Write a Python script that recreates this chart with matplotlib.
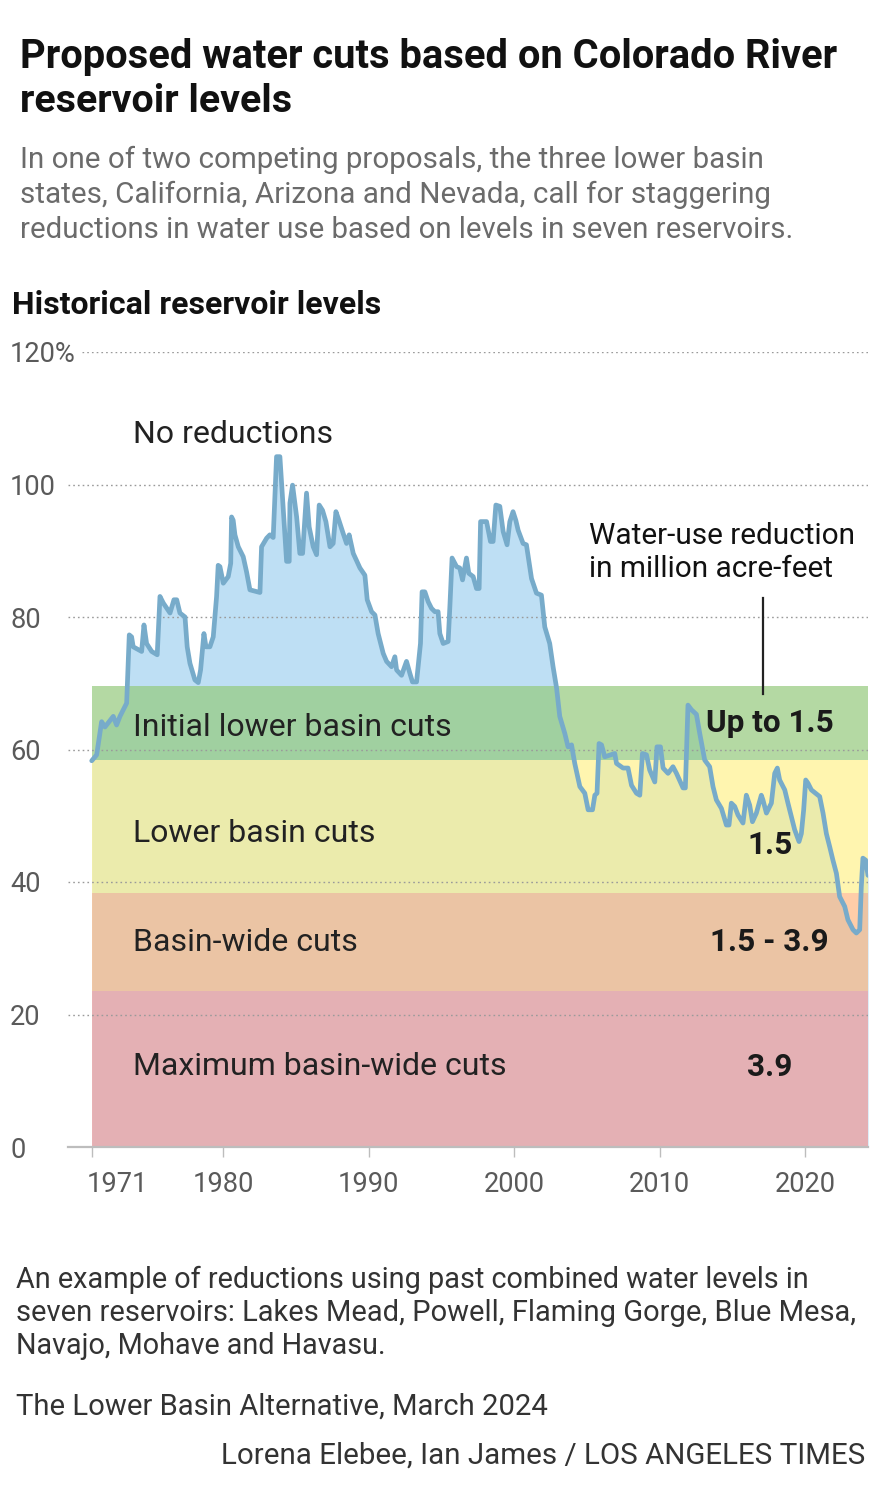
import matplotlib
matplotlib.use('Agg')
import matplotlib.pyplot as plt
from matplotlib import font_manager
from matplotlib.transforms import ScaledTranslation

# ---------------- data ----------------
years = [1970.98, 1971.32, 1971.66, 1971.89, 1972.46, 1972.69, 1972.92, 1973.26, 1973.38, 1973.56,
         1973.72, 1973.83, 1974.41, 1974.57, 1974.75, 1975.10, 1975.48, 1975.67, 1975.90, 1976.36,
         1976.63, 1976.82, 1977.04, 1977.39, 1977.54, 1977.73, 1978.07, 1978.30, 1978.46, 1978.69,
         1978.83, 1979.10, 1979.33, 1979.56, 1979.67, 1979.79, 1980.02, 1980.36, 1980.53, 1980.59,
         1980.70, 1980.82, 1981.05, 1981.39, 1981.62, 1981.85, 1982.54, 1982.65, 1983.00, 1983.22,
         1983.45, 1983.68, 1983.91, 1984.37, 1984.55, 1984.60, 1984.78, 1985.06, 1985.28, 1985.47,
         1985.74, 1985.92, 1986.20, 1986.43, 1986.61, 1986.84, 1987.07, 1987.35, 1987.57, 1987.76,
         1987.92, 1988.26, 1988.49, 1988.67, 1988.95, 1989.41, 1989.75, 1989.91, 1990.21, 1990.44,
         1990.66, 1991.01, 1991.24, 1991.58, 1991.81, 1991.93, 1992.27, 1992.61, 1992.84, 1993.02,
         1993.30, 1993.57, 1993.68, 1993.87, 1994.10, 1994.33, 1994.56, 1994.78, 1994.90, 1995.13,
         1995.47, 1995.59, 1995.74, 1996.05, 1996.27, 1996.46, 1996.73, 1996.89, 1997.19, 1997.42,
         1997.60, 1997.70, 1998.11, 1998.38, 1998.56, 1998.75, 1999.02, 1999.25, 1999.52, 1999.71,
         1999.93, 2000.12, 2000.28, 2000.62, 2000.85, 2001.20, 2001.54, 2001.88, 2002.11, 2002.45,
         2002.68, 2002.92, 2003.14, 2003.49, 2003.71, 2003.95, 2004.17, 2004.52, 2004.86, 2005.09,
         2005.39, 2005.55, 2005.70, 2005.84, 2006.01, 2006.23, 2006.92, 2007.04, 2007.49, 2007.83,
         2008.07, 2008.41, 2008.64, 2008.82, 2009.10, 2009.32, 2009.67, 2009.82, 2010.06, 2010.24,
         2010.58, 2010.92, 2011.16, 2011.61, 2011.77, 2011.95, 2012.19, 2012.53, 2012.76, 2013.10,
         2013.44, 2013.67, 2013.90, 2014.25, 2014.59, 2014.77, 2014.93, 2015.16, 2015.39, 2015.73,
         2015.96, 2016.19, 2016.38, 2016.65, 2016.99, 2017.10, 2017.34, 2017.68, 2017.91, 2018.09,
         2018.25, 2018.60, 2018.82, 2019.05, 2019.28, 2019.58, 2019.74, 2019.90, 2020.04, 2020.20,
         2020.43, 2020.88, 2021.00, 2021.23, 2021.46, 2021.69, 2021.91, 2022.15, 2022.37, 2022.72,
         2022.94, 2023.29, 2023.52, 2023.75, 2023.86, 2023.97, 2024.16, 2024.32]
levels = [58.3, 59.2, 64.2, 63.4, 65.0, 63.7, 65.0, 66.5, 67.0, 77.3,
          77.0, 75.5, 74.8, 78.8, 76.0, 74.8, 74.3, 83.1, 82.1, 80.6,
          82.6, 82.6, 80.6, 80.0, 75.5, 73.0, 70.5, 70.1, 72.0, 77.5,
          75.5, 75.5, 77.0, 83.1, 87.8, 87.6, 85.1, 86.1, 88.1, 95.1,
          94.6, 92.4, 90.6, 89.1, 86.8, 84.1, 83.7, 90.6, 91.9, 92.4,
          92.0, 104.2, 104.2, 88.4, 88.4, 97.2, 99.9, 95.1, 89.6, 89.6,
          98.7, 93.6, 90.6, 89.4, 96.9, 96.1, 94.4, 90.6, 91.1, 95.9,
          94.9, 92.6, 91.1, 92.4, 89.6, 87.4, 86.3, 82.6, 80.8, 80.3,
          77.5, 74.5, 73.3, 72.5, 74.0, 72.0, 71.2, 73.3, 71.5, 70.2,
          70.2, 76.0, 83.8, 83.8, 82.3, 81.3, 80.8, 80.8, 77.5, 76.0,
          76.3, 81.6, 88.9, 87.6, 87.4, 85.6, 88.9, 86.6, 86.1, 84.3,
          84.3, 94.4, 94.4, 91.4, 91.4, 96.9, 96.7, 92.9, 90.9, 94.4,
          95.9, 94.6, 93.1, 91.1, 90.9, 85.8, 83.6, 83.3, 78.5, 76.0,
          72.5, 69.3, 65.0, 62.4, 60.4, 60.7, 57.9, 54.4, 53.4, 50.9,
          50.9, 53.1, 53.4, 60.9, 60.7, 58.9, 59.4, 57.9, 57.2, 57.2,
          54.6, 53.4, 53.1, 59.4, 59.2, 56.9, 55.1, 60.4, 60.4, 57.2,
          56.4, 57.4, 56.4, 54.2, 54.2, 66.7, 66.0, 65.3, 62.4, 58.4,
          57.4, 54.4, 52.4, 51.1, 48.6, 48.6, 51.9, 51.4, 50.1, 48.9,
          53.1, 51.6, 49.1, 50.4, 53.1, 52.4, 50.4, 51.9, 56.4, 57.2,
          55.4, 53.9, 51.9, 49.9, 47.9, 46.1, 47.3, 50.9, 55.4, 54.9,
          53.9, 53.1, 52.9, 50.4, 47.3, 45.3, 43.3, 41.3, 37.8, 36.3,
          34.3, 32.8, 32.3, 32.8, 39.3, 43.6, 43.3, 41.0]

band_names = ["Initial lower basin cuts", "Lower basin cuts", "Basin-wide cuts", "Maximum basin-wide cuts"]
band_lower = [58.4, 38.3, 23.5, 0.0]
band_upper = [69.6, 58.4, 38.3, 23.5]
band_cuts = ["Up to 1.5", "1.5", "1.5 - 3.9", "3.9"]
band_colors = ['#94CA7D', '#FFF18E', '#FFB983', '#F59D9A']
band_start = 1971.0

y_ticks = [0, 20, 40, 60, 80, 100, 120]
y_ticklabels = ['0', '20', '40', '60', '80', '100', '120%']
x_ticks = [1971, 1980, 1990, 2000, 2010, 2020]
x_ticklabels = ['1971', '1980', '1990', '2000', '2010', '2020']

# ---------------- fonts ----------------
avail = {f.name for f in font_manager.fontManager.ttflist}
FONT = 'Liberation Sans Narrow' if 'Liberation Sans Narrow' in avail else 'Roboto'
plt.rcParams['font.family'] = [FONT, 'DejaVu Sans']

W, H = 883, 1500
fig = plt.figure(figsize=(W / 100, H / 100), dpi=100)
fig.patch.set_facecolor('white')
renderer = fig.canvas.get_renderer()


def fit(t, width_px):
    for _ in range(3):
        bb = t.get_window_extent(renderer)
        t.set_fontsize(t.get_fontsize() * width_px / bb.width)
    return t


def ftext(x, y, s, width_px, ha='left', **kw):
    t = fig.text(x / W, 1 - y / H, s, ha=ha, va='baseline', **kw)
    return fit(t, width_px)


# ---------------- header ----------------
ftext(20, 68, "Proposed water cuts based on Colorado River", 818, fontsize=28, weight='bold', color='#111111')
ftext(20, 112, "reservoir levels", 272, fontsize=28, weight='bold', color='#111111')
sub_lines = ["In one of two competing proposals, the three lower basin",
             "states, California, Arizona and Nevada, call for staggering",
             "reductions in water use based on levels in seven reservoirs."]
sub_w = [745, 751, 776]
for i, (s, w) in enumerate(zip(sub_lines, sub_w)):
    ftext(20, 168 + 35 * i, s, w, fontsize=20, color='#6b6b6b')
ftext(12, 314, "Historical reservoir levels", 367, fontsize=20, weight='bold', color='#111111')

# ---------------- chart ----------------
ax = fig.add_axes([68 / W, 1 - 1147 / H, 800 / W, 795 / H])
ax.set_xlim(1969.35, 2024.32)
ax.set_ylim(0, 120)
ax.set_facecolor('none')

ax.fill_between(years, levels, 0, color='#BEDFF4', lw=0, zorder=1)
xend = years[-1]
for lo, hi, c in zip(band_lower, band_upper, band_colors):
    ax.fill_between([band_start, xend], [lo, lo], [hi, hi], color=c, alpha=0.7, lw=0, zorder=2)

for yv in y_ticks[1:]:
    ax.axhline(yv, xmin=(14 / 800 if yv == 120 else 0), xmax=1, color='#9a9a9a', lw=1.0,
               ls=(0, (1.2, 2.2)), zorder=3)

ax.plot(years, levels, color='#77ABCA', lw=3.4, zorder=5, solid_joinstyle='round', solid_capstyle='round')

for sp in ['top', 'right', 'left']:
    ax.spines[sp].set_visible(False)
ax.spines['bottom'].set_color('#bdbdbd')
ax.spines['bottom'].set_linewidth(1.6)
ax.spines['bottom'].set_zorder(6)

ax.set_yticks(y_ticks)
ax.set_yticklabels(y_ticklabels)
ax.tick_params(axis='y', length=0, pad=(68 - 10) * 0.72, labelsize=16, labelcolor='#5a5a5a')
for lab in ax.get_yticklabels():
    lab.set_ha('left')
ax.set_xticks(x_ticks)
ax.set_xticklabels(x_ticklabels)
ax.tick_params(axis='x', length=7, width=1, color='#bdbdbd', pad=10, labelsize=16, labelcolor='#5a5a5a')
xl = ax.get_xticklabels()
xl[0].set_ha('left')
xl[0].set_transform(xl[0].get_transform() + ScaledTranslation(-5 / 100, 0, fig.dpi_scale_trans))

# fit tick font size to reference width of "100" (~45 px)
fig.canvas.draw()
lab100 = ax.get_yticklabels()[5]
bb = lab100.get_window_extent(renderer)
tsize = 16 * 46 / bb.width
ax.tick_params(axis='both', labelsize=tsize)
for lab in ax.get_yticklabels():
    lab.set_va('center_baseline')

# band labels
label_x = 1973.8
name_base = [62.0, 46.1, 29.6, 10.9]
t0 = ax.text(label_x, name_base[0], band_names[0], ha='left', va='baseline', fontsize=20,
             color='#222222', zorder=7)
fit(t0, 319)
name_size = t0.get_fontsize()
for s, yb in zip(band_names[1:], name_base[1:]):
    ax.text(label_x, yb, s, ha='left', va='baseline', fontsize=name_size, color='#222222', zorder=7)

cut_x = 2017.56
cut_base = [62.6, 44.2, 29.6, 10.7]
c0 = ax.text(cut_x, cut_base[0], band_cuts[0], ha='center', va='baseline', fontsize=20, weight='bold',
             color='#1a1a1a', zorder=7)
fit(c0, 128)
cut_size = c0.get_fontsize()
for s, yb in zip(band_cuts[1:], cut_base[1:]):
    ax.text(cut_x, yb, s, ha='center', va='baseline', fontsize=cut_size, weight='bold',
            color='#1a1a1a', zorder=7)

ax.text(label_x, 106.3, "No reductions", ha='left', va='baseline', fontsize=name_size, color='#222222', zorder=7)
wr = ax.text(2005.13, 91.0, "Water-use reduction", ha='left', va='baseline', fontsize=20,
             color='#111111', zorder=7)
fit(wr, 267)
ax.text(2005.13, 86.0, "in million acre-feet", ha='left', va='baseline', fontsize=wr.get_fontsize(),
        color='#111111', zorder=7)
ax.plot([2017.08, 2017.08], [82.9, 68.4], color='#222222', lw=1.6, zorder=7)

# ---------------- footer ----------------
foot = ["An example of reductions using past combined water levels in",
        "seven reservoirs: Lakes Mead, Powell, Flaming Gorge, Blue Mesa,",
        "Navajo, Mohave and Havasu."]
foot_w = [798, 839, 369]
for i, (s, w) in enumerate(zip(foot, foot_w)):
    ftext(16, 1288 + 33 * i, s, w, fontsize=20, color='#333333')
ftext(16, 1415, "The Lower Basin Alternative, March 2024", 532, fontsize=20, color='#333333')
ftext(865, 1464, "Lorena Elebee, Ian James / LOS ANGELES TIMES", 642, ha='right', fontsize=20, color='#333333')

fig.savefig('out.png', dpi=100, facecolor='white')
